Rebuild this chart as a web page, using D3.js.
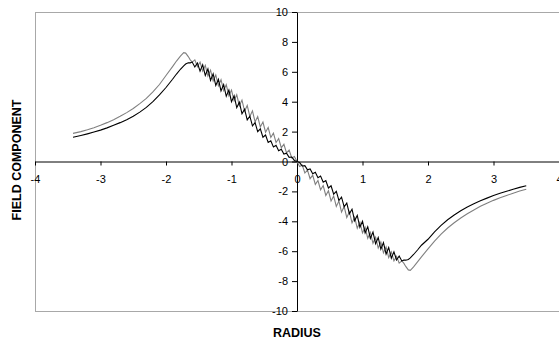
<!DOCTYPE html>
<html>
<head>
<meta charset="utf-8">
<script src="https://cdn.jsdelivr.net/npm/d3@7"></script>
<style>
  html, body { margin: 0; padding: 0; background: #fff; }
  svg { display: block; }
  text { font-family: Arial, "Liberation Sans", sans-serif; }
</style>
</head>
<body>
<script>
// tick values
const xTicks = [-4, -3, -2, -1, 0, 1, 2, 3, 4];
const yTicks = [-10, -8, -6, -4, -2, 0, 2, 4, 6, 8, 10];
const xLabel = "RADIUS";
const yLabel = "FIELD COMPONENT";

// smooth outer part, left side
const leftTailR = [-3.42, -3.3, -3.2, -3.1, -3.0, -2.9, -2.8, -2.7, -2.6, -2.5, -2.4, -2.3, -2.2, -2.1, -2.0, -1.9, -1.84, -1.78, -1.73, -1.70, -1.66, -1.63];
const blackLeftTail = [1.62, 1.74, 1.85, 1.97, 2.1, 2.25, 2.42, 2.6, 2.8, 3.03, 3.3, 3.62, 4.0, 4.45, 4.95, 5.5, 5.85, 6.17, 6.4, 6.52, 6.6, 6.6];
const grayLeftTail = [1.88, 2.0, 2.12, 2.26, 2.42, 2.6, 2.8, 3.02, 3.27, 3.55, 3.87, 4.22, 4.65, 5.15, 5.75, 6.35, 6.72, 7.05, 7.28, 7.25, 7.02, 6.8];

// oscillating core, -1.6 .. 1.6
const coreR = [-1.60, -1.56, -1.52, -1.48, -1.44, -1.40, -1.36, -1.32, -1.28, -1.24, -1.20, -1.16, -1.12, -1.08, -1.04,
  -1.00, -0.96, -0.92, -0.88, -0.84, -0.80, -0.76, -0.72, -0.68, -0.64, -0.60, -0.56, -0.52, -0.48, -0.44,
  -0.40, -0.36, -0.32, -0.28, -0.24, -0.20, -0.16, -0.12, -0.08, -0.04, 0,
  0.04, 0.08, 0.12, 0.16, 0.20, 0.24, 0.28, 0.32, 0.36, 0.40, 0.44, 0.48, 0.52, 0.56, 0.60, 0.64, 0.68, 0.72, 0.76, 0.80,
  0.84, 0.88, 0.92, 0.96, 1.00, 1.04, 1.08, 1.12, 1.16, 1.20, 1.24, 1.28, 1.32, 1.36, 1.40, 1.44, 1.48, 1.52, 1.56, 1.60];
const blackCore = [6.65, 6.32, 6.59, 6.04, 6.47, 5.75, 6.19, 5.43, 5.86, 5.08, 5.5, 4.72, 5.14, 4.36, 4.78,
  4.0, 4.4, 3.6, 3.97, 3.19, 3.5, 2.78, 3.03, 2.38, 2.6, 2.0, 2.18, 1.62, 1.77, 1.27,
  1.39, 0.97, 1.09, 0.72, 0.82, 0.5, 0.56, 0.28, 0.3, 0.07, 0,
  -0.07, -0.3, -0.28, -0.56, -0.5, -0.82, -0.72, -1.09, -0.97, -1.39, -1.27, -1.77, -1.62, -2.18, -2.0, -2.6, -2.38, -3.03, -2.78, -3.5,
  -3.19, -3.97, -3.6, -4.4, -4.0, -4.78, -4.36, -5.14, -4.72, -5.5, -5.08, -5.86, -5.43, -6.19, -5.75, -6.47, -6.04, -6.59, -6.32, -6.65];
const grayCore = [6.65, 6.8, 6.34, 6.65, 6.04, 6.43, 5.71, 6.11, 5.39, 5.79, 5.07, 5.47, 4.75, 5.14, 4.4,
  4.78, 4.06, 4.46, 3.73, 4.11, 3.37, 3.75, 3.01, 3.39, 2.65, 3.01, 2.31, 2.64, 1.96, 2.27,
  1.61, 1.9, 1.27, 1.53, 0.92, 1.15, 0.57, 0.77, 0.24, 0.34, 0,
  -0.34, -0.24, -0.77, -0.57, -1.15, -0.92, -1.53, -1.27, -1.9, -1.61, -2.27, -1.96, -2.64, -2.31, -3.01, -2.65, -3.39, -3.01, -3.75, -3.37,
  -4.11, -3.73, -4.46, -4.06, -4.78, -4.4, -5.14, -4.75, -5.47, -5.07, -5.79, -5.39, -6.11, -5.71, -6.43, -6.04, -6.65, -6.34, -6.8, -6.65];

// smooth outer part, right side
const rightTailR = [1.63, 1.66, 1.70, 1.73, 1.78, 1.84, 1.9, 2.0, 2.1, 2.2, 2.3, 2.4, 2.5, 2.6, 2.7, 2.8, 2.9, 3.0, 3.1, 3.2, 3.3, 3.4, 3.5];
const blackRightTail = [-6.6, -6.6, -6.55, -6.45, -6.22, -5.92, -5.6, -5.2, -4.7, -4.27, -3.9, -3.58, -3.3, -3.05, -2.83, -2.63, -2.45, -2.28, -2.13, -1.99, -1.86, -1.73, -1.62];
const grayRightTail = [-6.8, -7.02, -7.25, -7.28, -7.05, -6.72, -6.38, -5.85, -5.33, -4.86, -4.45, -4.1, -3.78, -3.5, -3.24, -3.0, -2.79, -2.6, -2.43, -2.27, -2.12, -1.98, -1.85];

const width = 559, height = 341;
const plot = { left: 35, right: 559, top: 12, bottom: 311 };

const svg = d3.select("body").append("svg")
  .attr("width", width)
  .attr("height", height)
  .attr("viewBox", `0 0 ${width} ${height}`);

const x = d3.scaleLinear([-4, 4], [plot.left, plot.right]);
const y = d3.scaleLinear([-10, 10], [plot.bottom, plot.top]);

// plot area frame
svg.append("rect")
  .attr("x", plot.left + 0.5)
  .attr("y", plot.top + 0.5)
  .attr("width", plot.right - plot.left + 5)
  .attr("height", plot.bottom - plot.top)
  .attr("fill", "none")
  .attr("stroke", "#a8a8a8");

const fmt = d => String(d);

svg.append("g")
  .attr("transform", `translate(0,${y(0)})`)
  .call(d3.axisBottom(x).tickValues(xTicks).tickFormat(fmt).tickSize(4).tickSizeOuter(0).tickPadding(10))
  .call(g => g.selectAll("text").attr("font-size", 11).attr("font-family", null).attr("fill", "#000"))
  .call(g => g.selectAll("line, path").attr("stroke", "#000"));

svg.append("g")
  .attr("transform", `translate(${x(0)},0)`)
  .call(d3.axisLeft(y).tickValues(yTicks).tickFormat(fmt).tickSize(5).tickSizeOuter(0).tickPadding(4))
  .call(g => g.selectAll("text").attr("font-size", 11).attr("font-family", null).attr("fill", "#000"))
  .call(g => g.selectAll("line, path").attr("stroke", "#000"));

const line = d3.line()
  .x(d => x(d[0]))
  .y(d => y(d[1]));

const join = (rs, vs) => rs.map((r, i) => [r, vs[i]]);
const gray = [...join(leftTailR, grayLeftTail), ...join(coreR, grayCore), ...join(rightTailR, grayRightTail)];
const black = [...join(leftTailR, blackLeftTail), ...join(coreR, blackCore), ...join(rightTailR, blackRightTail)];

svg.append("path")
  .attr("fill", "none")
  .attr("stroke", "#808080")
  .attr("stroke-width", 1.1)
  .attr("d", line(gray));

svg.append("path")
  .attr("fill", "none")
  .attr("stroke", "#000")
  .attr("stroke-width", 1.1)
  .attr("d", line(black));

svg.append("text")
  .attr("x", x(0))
  .attr("y", 336.5)
  .attr("text-anchor", "middle")
  .attr("font-size", 12.5)
  .attr("font-weight", "bold")
  .text(xLabel);

svg.append("text")
  .attr("transform", `translate(20.5,160) rotate(-90)`)
  .attr("text-anchor", "middle")
  .attr("font-size", 12.5)
  .attr("font-weight", "bold")
  .text(yLabel);
</script>
</body>
</html>
